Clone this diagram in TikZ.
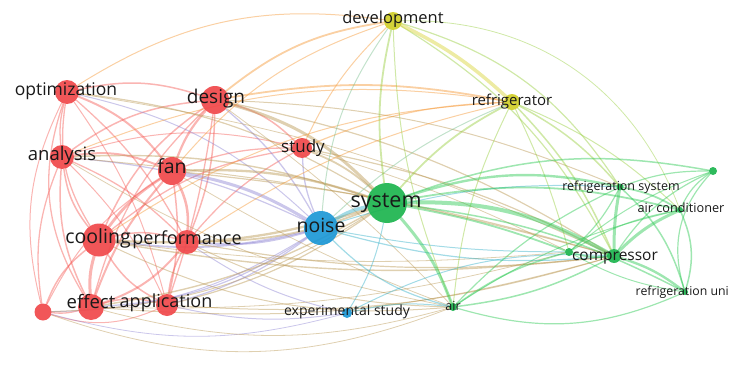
\documentclass[tikz,border=0pt]{standalone}
\usepackage{fontspec}
\setmainfont{Open Sans}
\pgfdeclarelayer{bg}
\pgfsetlayers{bg,main}
\definecolor{cR}{RGB}{240,72,74}
\definecolor{cB}{RGB}{28,152,214}
\definecolor{cG}{RGB}{28,180,78}
\definecolor{cY}{RGB}{208,206,40}
\definecolor{eRR}{RGB}{245,90,85}
\definecolor{eRY}{RGB}{245,150,50}
\definecolor{eRG}{RGB}{185,150,80}
\definecolor{eRB}{RGB}{140,130,210}
\definecolor{eGB}{RGB}{50,175,200}
\definecolor{eBY}{RGB}{120,190,140}
\definecolor{eGY}{RGB}{150,205,60}
\definecolor{eYY}{RGB}{215,210,50}
\definecolor{eGG}{RGB}{40,200,80}
\definecolor{txt}{RGB}{25,25,25}
\tikzset{
  dot/.style={circle, inner sep=0pt, minimum size=#1, draw=none, fill opacity=.92},
  lbl/.style={text=txt, inner sep=0pt, text height=.72em, text depth=.22em},
  ed/.style={draw=#1, draw opacity=.45, line cap=round},
}
\begin{document}
\begin{tikzpicture}[x=1pt,y=-1pt]
\useasboundingbox (0,0) rectangle (730,369);
% nodes (circles)
\node[dot=24pt, fill=cR] (opt) at (67,92) {};
\node[dot=28pt, fill=cR] (design) at (215,100) {};
\node[dot=24pt, fill=cR] (anal) at (62,157) {};
\node[dot=28pt, fill=cR] (fan) at (172,171) {};
\node[dot=20pt, fill=cR] (study) at (302,148) {};
\node[dot=33pt, fill=cR] (cool) at (99,240) {};
\node[dot=24pt, fill=cR] (perf) at (187,242) {};
\node[dot=26pt, fill=cR] (effect) at (91,307) {};
\node[dot=22pt, fill=cR] (appl) at (167,305) {};
\node[dot=17pt, fill=cR] (rsmall) at (43,312) {};
\node[dot=34pt, fill=cB] (noise) at (321,228) {};
\node[dot=10pt, fill=cB] (exp) at (347,313) {};
\node[dot=40pt, fill=cG] (sys) at (387,203) {};
\node[dot=18pt, fill=cY] (dev) at (393,21) {};
\node[dot=16pt, fill=cY] (refr) at (512,102) {};
\node[dot=8pt, fill=cG] (air) at (453,307) {};
\node[dot=14pt, fill=cG] (comp) at (614,256) {};
\node[dot=8pt, fill=cG] (gs1) at (569,252) {};
\node[dot=7pt, fill=cG] (rsys) at (620,187) {};
\node[dot=8pt, fill=cG] (gs2) at (713,171) {};
\node[dot=6pt, fill=cG] (aircon) at (680,210) {};
\node[dot=6pt, fill=cG] (runit) at (685,292) {};
% labels
\node[lbl, font=\fontsize{17.5}{18}\selectfont] at (66,93) {optimization};
\node[lbl, font=\fontsize{19}{20}\selectfont] at (216,101) {design};
\node[lbl, font=\fontsize{18.5}{19}\selectfont] at (62,158) {analysis};
\node[lbl, font=\fontsize{19.5}{20}\selectfont] at (172,171) {fan};
\node[lbl, font=\fontsize{17}{18}\selectfont] at (303,150) {study};
\node[lbl, font=\fontsize{19.5}{20}\selectfont] at (98,241) {cooling};
\node[lbl, font=\fontsize{18}{19}\selectfont] at (187,242) {performance};
\node[lbl, font=\fontsize{18.5}{19}\selectfont] at (91,306) {effect};
\node[lbl, font=\fontsize{18}{19}\selectfont] at (166,305) {application};
\node[lbl, font=\fontsize{19.5}{20}\selectfont] at (321,230) {noise};
\node[lbl, font=\fontsize{21.5}{22}\selectfont] at (386,205) {system};
\node[lbl, font=\fontsize{14}{15}\selectfont] at (347,313) {experimental study};
\node[lbl, font=\fontsize{16.5}{17}\selectfont] at (393,21) {development};
\node[lbl, font=\fontsize{15}{16}\selectfont] at (512,103) {refrigerator};
\node[lbl, font=\fontsize{12.5}{13}\selectfont] at (453,308) {air};
\node[lbl, font=\fontsize{15.5}{16}\selectfont] at (615,258) {compressor};
\node[lbl, font=\fontsize{12.5}{13}\selectfont] at (621,188) {refrigeration system};
\node[lbl, font=\fontsize{12.7}{13}\selectfont] at (681,210) {air conditioner};
\node[lbl, font=\fontsize{12.3}{13}\selectfont, anchor=east] at (729,293) {refrigeration uni};
% edges
\begin{pgfonlayer}{bg}
\foreach \a/\b/\w/\k in {opt/design/1.5/15, opt/anal/1.3/-10, opt/fan/2/15, opt/cool/1.3/-20, opt/perf/1.3/10, opt/effect/1.3/-25, opt/appl/1/10, opt/rsmall/1/-20,
  design/anal/1.5/-15, design/fan/2.2/-10, design/cool/1.5/-15, design/perf/1.5/10, design/effect/1.3/-15, design/appl/1.3/5, design/study/1.5/15,
  anal/fan/2/15, anal/cool/1.5/-15, anal/perf/1.3/10, anal/effect/1.5/-15, anal/appl/1/10, anal/rsmall/1.3/-15, anal/study/1/15,
  fan/cool/2.8/-10, fan/perf/2.5/15, fan/effect/2/-10, fan/appl/1.5/10, fan/study/1.3/10, fan/rsmall/1/-15,
  cool/perf/1.5/15, cool/effect/3/-10, cool/appl/1.5/-15, cool/rsmall/1.5/-15, cool/study/1.3/15,
  perf/effect/2/15, perf/appl/1.5/-10, perf/study/1.3/10, effect/appl/1.5/15, effect/rsmall/1.3/10, appl/rsmall/1/20}
  \draw[ed=eRR, line width=\w] (\a) to[bend left=\k] (\b);
\foreach \a/\b/\w/\k in {fan/noise/3/10, design/noise/1.3/10, cool/noise/1.8/-10, perf/noise/1.8/-10, anal/noise/1.2/10, effect/noise/1.2/-15, appl/noise/1.2/-10, study/noise/1.3/-10, opt/noise/1/15, rsmall/noise/1/-15, perf/exp/1/-10, appl/exp/1/-10, rsmall/exp/.8/-15}
  \draw[ed=eRB, line width=\w] (\a) to[bend left=\k] (\b);
\foreach \a/\b/\w/\k in {design/sys/3/15, fan/sys/2.3/10, cool/sys/2.3/-10, perf/sys/1.8/-10, anal/sys/1.4/10, effect/sys/1.4/-10, appl/sys/1.2/-10, opt/sys/1.2/12, study/sys/1.8/10, rsmall/sys/1/-15,
  design/comp/1.2/10, fan/comp/1.2/5, cool/comp/1.4/-8, perf/comp/1.2/-8, effect/comp/1/-10, study/comp/1.2/8, anal/comp/1/5, design/rsys/1/10, cool/air/1/-15, rsmall/air/.8/-20, appl/comp/1/-10, effect/air/.8/-15, study/gs1/.8/5,
  perf/air/1/-12, fan/air/.8/-5, opt/comp/.8/8, anal/air/.8/-10, cool/gs1/.8/-6, effect/gs1/.8/-8, design/air/.8/5}
  \draw[ed=eRG, line width=\w] (\a) to[bend left=\k] (\b);
\foreach \a/\b/\w/\k in {design/dev/1.8/15, design/refr/1.8/10, study/dev/1/10, fan/dev/1/15, study/refr/1.2/10, opt/dev/1/20, anal/refr/1/15, cool/refr/1/15, perf/refr/1/10}
  \draw[ed=eRY, line width=\w] (\a) to[bend left=\k] (\b);
\foreach \a/\b/\w/\k in {noise/sys/3.5/10, noise/comp/1.2/-10, noise/air/1.2/-15, noise/rsys/1/10, exp/sys/1/-10, exp/comp/1/15, exp/air/1/10, noise/gs1/1/-5}
  \draw[ed=eGB, line width=\w] (\a) to[bend left=\k] (\b);
\foreach \a/\b/\w/\k in {noise/dev/1/15, noise/refr/1/10}
  \draw[ed=eBY, line width=\w] (\a) to[bend left=\k] (\b);
\foreach \a/\b/\w/\k in {sys/dev/1.8/10, sys/refr/1.8/10, dev/comp/1.2/15, dev/rsys/1.2/20, dev/air/1/-10, dev/aircon/.8/35, refr/comp/1.5/10, refr/rsys/1.5/10, refr/air/1/-10, refr/aircon/1/10, refr/gs1/1/5}
  \draw[ed=eGY, line width=\w] (\a) to[bend left=\k] (\b);
\draw[ed=eYY, line width=3.5] (dev) to[bend left=8] (refr);
\foreach \a/\b/\w/\k in {sys/comp/4/15, sys/rsys/2.4/15, sys/aircon/1.8/12, sys/air/3/10, sys/gs1/1.8/5, sys/runit/1.5/10, sys/gs2/1.5/15,
  comp/rsys/3/5, comp/aircon/3/10, comp/runit/2.4/10, comp/gs1/1.8/10, comp/air/1.5/10, comp/gs2/1.2/15,
  rsys/aircon/1.8/10, rsys/gs2/1.2/10, rsys/runit/1.5/15, rsys/gs1/1.2/10, rsys/air/1.2/-10, aircon/gs2/1.2/15, aircon/runit/1.5/20,
  runit/gs2/1.2/30, runit/air/1.2/20, air/gs1/1.5/10, gs1/aircon/1.2/10, gs1/gs2/1/10, gs1/runit/1/-10, air/aircon/1/10}
  \draw[ed=eGG, line width=\w] (\a) to[bend left=\k] (\b);
\end{pgfonlayer}
\end{tikzpicture}
\end{document}
